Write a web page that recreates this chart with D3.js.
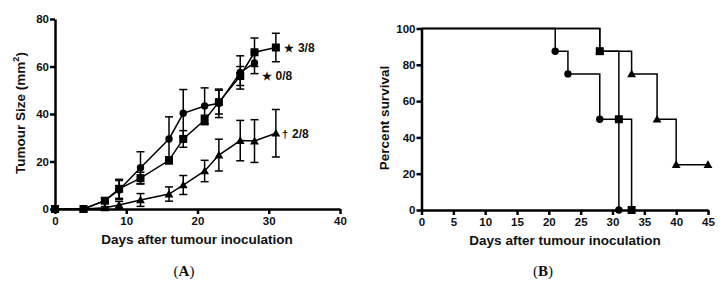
<!DOCTYPE html>
<html lang="en">
<head>
<meta charset="UTF-8">
<title>Tumour growth and survival</title>
<script src="https://d3js.org/d3.v7.min.js"></script>
<style>
  body { margin: 0; background: #fff; }
  svg { display: block; font-family: "Liberation Sans", Arial, sans-serif; }
  .axis path, .axis line { stroke: #000; stroke-width: 2.5; }
  .axis text { font-size: 11.5px; font-weight: bold; fill: #111; }
  .title { font-size: 13.5px; font-weight: bold; fill: #111; }
  .panel { font-family: "Liberation Serif", "Times New Roman", serif; font-size: 15px; fill: #111; }
</style>
</head>
<body>
<svg width="724" height="283"></svg>
<script>
// Panel A: tumour size (mean, error)
const daysSquare = [0, 4, 7, 9, 12, 16, 18, 21, 23, 26, 28, 31];
const sizeSquare = [0, 0, 3.5, 8.5, 13, 20.5, 29.5, 37.5, 45, 56, 66, 68];
const errSquare  = [0, 0, 1, 4, 2.5, 1.5, 3.5, 2, 5, 4, 6, 6];

const daysCircle = [0, 4, 7, 9, 12, 16, 18, 21, 23, 26, 28];
const sizeCircle = [0, 0, 3.5, 8, 17.4, 29.5, 40.3, 43.4, 44.5, 57.5, 61.5];
const errCircle  = [0, 0, 1, 4, 6.7, 9.3, 10, 7.6, 6, 7, 4.5];

const daysTri = [0, 4, 7, 9, 12, 16, 18, 21, 23, 26, 28, 31];
const sizeTri = [0, 0, 0.5, 1.7, 3.8, 6.3, 10.1, 16, 22.7, 28.8, 28.6, 31.9];
const errTri  = [0, 0, 0.5, 1.5, 2.7, 3, 4, 4.5, 6.7, 8.5, 9, 10];

const ticksA_x = [0, 10, 20, 30, 40];
const ticksA_y = [0, 20, 40, 60, 80];

// Panel B: Kaplan-Meier steps (day, percent)
const kmCircle = [[0, 100], [21, 87.5], [23, 75], [28, 50], [31, 0]];
const kmSquare = [[0, 100], [28, 87.5], [31, 50], [33, 0]];
const kmTri    = [[0, 100], [28, 87.5], [33, 75], [37, 50], [40, 25], [45, 25]];
const ticksB_x = [0, 5, 10, 15, 20, 25, 30, 35, 40, 45];
const ticksB_y = [0, 20, 40, 60, 80, 100];

const svg = d3.select("svg");

function marker(g, shape, x, y) {
  if (shape === "circle") {
    g.append("circle").attr("cx", x).attr("cy", y).attr("r", 3.7).attr("fill", "#000");
  } else if (shape === "square") {
    g.append("rect").attr("x", x - 4).attr("y", y - 4).attr("width", 8).attr("height", 8).attr("fill", "#000");
  } else {
    g.append("path").attr("d", d3.symbol(d3.symbolTriangle, 34)()).attr("transform", `translate(${x},${y + 0.8})`).attr("fill", "#000");
  }
}

// ---------- Panel A ----------
const xA = d3.scaleLinear().domain([0, 40]).range([55, 340]);
const yA = d3.scaleLinear().domain([0, 80]).range([209, 19]);
const gA = svg.append("g");

gA.append("g").attr("class", "axis").attr("transform", "translate(0,209)")
  .call(d3.axisBottom(xA).tickValues(ticksA_x).tickSize(5).tickSizeOuter(0).tickPadding(3));
gA.append("g").attr("class", "axis").attr("transform", "translate(55,0)")
  .call(d3.axisLeft(yA).tickValues(ticksA_y).tickSize(5).tickSizeOuter(0).tickPadding(1));

const lineA = d3.line().x(d => xA(d[0])).y(d => yA(d[1]));
const seriesA = [
  { shape: "circle", days: daysCircle, vals: sizeCircle, err: errCircle },
  { shape: "triangle", days: daysTri, vals: sizeTri, err: errTri },
  { shape: "square", days: daysSquare, vals: sizeSquare, err: errSquare }
];
seriesA.forEach(s => {
  const pts = s.days.map((d, i) => [d, s.vals[i], s.err[i]]);
  gA.append("path").datum(pts).attr("d", lineA).attr("fill", "none").attr("stroke", "#000").attr("stroke-width", 1.5);
  pts.forEach(p => {
    if (p[2] > 0) {
      const x = xA(p[0]);
      gA.append("line").attr("x1", x).attr("x2", x).attr("y1", yA(p[1] - p[2])).attr("y2", yA(p[1] + p[2]))
        .attr("stroke", "#000").attr("stroke-width", 1.5);
      [p[1] - p[2], p[1] + p[2]].forEach(v => {
        gA.append("line").attr("x1", x - 4).attr("x2", x + 4).attr("y1", yA(v)).attr("y2", yA(v))
          .attr("stroke", "#000").attr("stroke-width", 1.5);
      });
    }
    marker(gA, s.shape, xA(p[0]), yA(p[1]));
  });
});

// annotations
const annoA = [
  { sym: "\u2605", txt: "3/8", day: 31, val: 68, dx: 8, dy: 4 },
  { sym: "\u2605", txt: "0/8", day: 28, val: 61.5, dx: 7, dy: 17 },
  { sym: "\u2020", txt: "2/8", day: 31, val: 31.9, dx: 6, dy: 5 }
];
annoA.forEach(a => {
  const t = gA.append("text").attr("x", xA(a.day) + a.dx).attr("y", yA(a.val) + a.dy)
    .attr("font-size", 12).attr("font-weight", "bold").attr("fill", "#111");
  t.append("tspan").attr("font-size", 11).text(a.sym);
  t.append("tspan").attr("dx", 4).text(a.txt);
});

gA.append("text").attr("class", "title").attr("text-anchor", "middle")
  .attr("x", 197).attr("y", 244).text("Days after tumour inoculation");
const tA = gA.append("text").attr("class", "title").attr("text-anchor", "middle")
  .attr("transform", "translate(25,113) rotate(-90)");
tA.append("tspan").text("Tumour Size (mm");
tA.append("tspan").attr("font-size", 9).attr("dy", -6).text("2");
tA.append("tspan").attr("dy", 6).text(")");
const pA = gA.append("text").attr("class", "panel").attr("text-anchor", "middle").attr("x", 184).attr("y", 276);
pA.append("tspan").text("(");
pA.append("tspan").attr("font-weight", "bold").text("A");
pA.append("tspan").text(")");

// ---------- Panel B ----------
const xB = d3.scaleLinear().domain([0, 45]).range([421.5, 708]);
const yB = d3.scaleLinear().domain([0, 100]).range([210, 28.5]);
const gB = svg.append("g");

gB.append("g").attr("class", "axis").attr("transform", "translate(0,210)")
  .call(d3.axisBottom(xB).tickValues(ticksB_x).tickSize(5).tickSizeOuter(0).tickPadding(3));
gB.append("g").attr("class", "axis").attr("transform", "translate(421.5,0)")
  .call(d3.axisLeft(yB).tickValues(ticksB_y).tickSize(5).tickSizeOuter(0).tickPadding(1));

const stepLine = d3.line().x(d => xB(d[0])).y(d => yB(d[1])).curve(d3.curveStepAfter);
[
  { shape: "triangle", km: kmTri },
  { shape: "circle", km: kmCircle },
  { shape: "square", km: kmSquare }
].forEach(s => {
  gB.append("path").datum(s.km).attr("d", stepLine).attr("fill", "none").attr("stroke", "#000").attr("stroke-width", 1.5);
  s.km.slice(1).forEach(p => marker(gB, s.shape, xB(p[0]), yB(p[1])));
});

gB.append("text").attr("class", "title").attr("text-anchor", "middle")
  .attr("x", 565).attr("y", 245).text("Days after tumour inoculation");
gB.append("text").attr("class", "title").attr("text-anchor", "middle")
  .attr("transform", "translate(389,118) rotate(-90)").text("Percent survival");
const pB = gB.append("text").attr("class", "panel").attr("text-anchor", "middle").attr("x", 543).attr("y", 276);
pB.append("tspan").text("(");
pB.append("tspan").attr("font-weight", "bold").text("B");
pB.append("tspan").text(")");
</script>
</body>
</html>
